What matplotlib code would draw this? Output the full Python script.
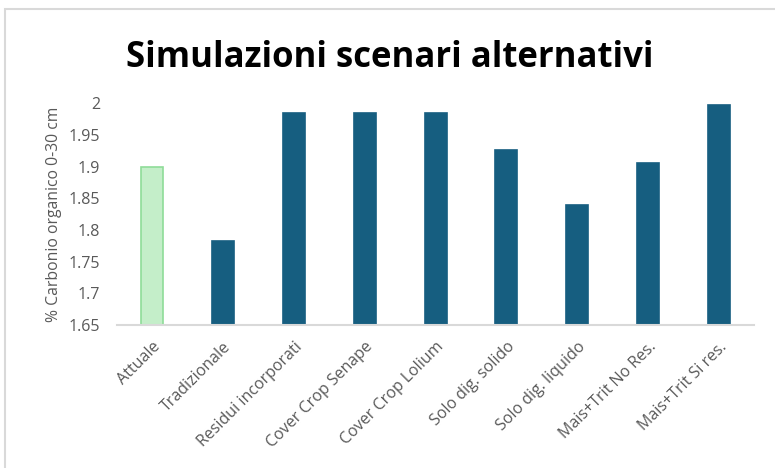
import matplotlib
matplotlib.use("Agg")
import matplotlib.pyplot as plt
from matplotlib.patches import Rectangle

plt.rcParams["font.family"] = ["Open Sans", "DejaVu Sans"]

# dati
scenari = ["Attuale", "Tradizionale", "Residui incorporati", "Cover Crop Senape",
           "Cover Crop Lolium", "Solo dig. solido", "Solo dig. liquido",
           "Mais+Trit No Res.", "Mais+Trit Si res."]
carbonio = [1.900, 1.782, 1.984, 1.984, 1.984, 1.927, 1.839, 1.905, 1.998]
yticks = [1.65, 1.7, 1.75, 1.8, 1.85, 1.9, 1.95, 2.0]
ytick_labels = ["1.65", "1.7", "1.75", "1.8", "1.85", "1.9", "1.95", "2"]

grigio = "#595959"
fill = ["#c4eec9"] + ["#165e80"] * (len(scenari) - 1)
edge = ["#8fdc98"] + ["#165e80"] * (len(scenari) - 1)

fig = plt.figure(figsize=(7.75, 4.68), dpi=100)
ax = fig.add_axes([0.151, 0.3056, 0.822, 0.4736])

ax.bar(range(len(scenari)), carbonio, width=0.31, color=fill, edgecolor=edge,
       linewidth=1.2, bottom=0)
ax.set_xlim(-0.5, len(scenari) - 0.5)
ax.set_ylim(1.65, 2.0)
ax.set_yticks(yticks)
ax.set_yticklabels(ytick_labels)
ax.set_xticks(range(len(scenari)))
ax.set_xticklabels(scenari, rotation=45, ha="right", rotation_mode="anchor")

for s in ["left", "right", "top"]:
    ax.spines[s].set_visible(False)
ax.spines["bottom"].set_color("#d9d9d9")
ax.spines["bottom"].set_linewidth(1.5)
ax.tick_params(axis="both", length=0, colors=grigio, labelsize=11.5)
ax.tick_params(axis="y", pad=12)
ax.tick_params(axis="x", pad=10)

ax.set_ylabel("% Carbonio organico 0-30 cm", color=grigio, fontsize=11.3, labelpad=5)

fig.text(0.503, 0.876, "Simulazioni scenari alternativi", ha="center", va="center",
         fontsize=25, fontweight="bold", color="black")

# cornice del grafico
fig.add_artist(Rectangle((0.0065, -0.05), 1.1, 0.031 + 1.0, transform=fig.transFigure,
                         fill=False, edgecolor="#d9d9d9", linewidth=1.5))

fig.savefig("out.png", dpi=100)
